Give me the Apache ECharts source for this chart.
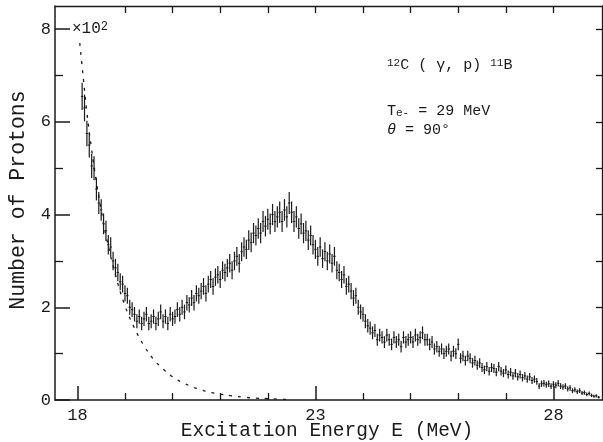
<!DOCTYPE html>
<html>
<head>
<meta charset="utf-8">
<script src="https://cdn.jsdelivr.net/npm/echarts@6/dist/echarts.min.js"></script>
<style>
  html, body { margin: 0; padding: 0; background: #ffffff; }
  #chart { width: 603px; height: 442px; }
</style>
</head>
<body>
<div id="chart"></div>
<script>
// Proton yield of 12C(γ,p)11B versus excitation energy (counts in units of 10^2)
const binStart = 18.10;   // MeV, centre of the first bin
const binWidth = 0.05;    // MeV

const protonCounts = [
  6.55, 6.30, 5.75, 5.50, 5.05, 5.00, 4.55, 4.25, 4.10, 3.80,
  3.65, 3.35, 3.30, 3.00, 2.85, 2.75, 2.55, 2.50, 2.30, 2.25,
  2.00, 1.95, 1.85, 1.70, 1.80, 1.65, 1.75, 1.85, 1.65, 1.70,
  1.80, 1.65, 1.75, 1.90, 1.70, 1.80, 1.65, 1.85, 1.75, 1.80,
  1.95, 1.85, 2.00, 1.90, 2.10, 2.05, 2.20, 2.10, 2.30, 2.25,
  2.35, 2.45, 2.30, 2.50, 2.60, 2.45, 2.65, 2.70, 2.60, 2.80,
  2.75, 2.85, 2.95, 2.80, 3.00, 3.10, 2.95, 3.20, 3.30, 3.25,
  3.45, 3.40, 3.60, 3.55, 3.70, 3.60, 3.85, 3.75, 3.90, 3.80,
  4.00, 3.85, 3.95, 4.05, 3.85, 4.10, 3.95, 4.25, 4.05, 3.85,
  3.95, 3.70, 3.80, 3.60, 3.65, 3.45, 3.55, 3.35, 3.25, 3.10,
  3.30, 3.05, 3.20, 3.00, 3.15, 2.95, 3.10, 2.80, 2.75, 2.60,
  2.70, 2.45, 2.50, 2.35, 2.20, 2.25, 2.00, 1.90, 1.85, 1.70,
  1.60, 1.55, 1.45, 1.50, 1.30, 1.40, 1.35, 1.25, 1.40, 1.30,
  1.20, 1.35, 1.25, 1.30, 1.15, 1.35, 1.25, 1.30, 1.35, 1.25,
  1.40, 1.30, 1.35, 1.45, 1.30, 1.30, 1.20, 1.25, 1.10, 1.15,
  1.05, 1.10, 1.00, 1.05, 1.10, 0.95, 1.05, 1.00, 1.20, 0.90,
  0.95, 0.85, 0.95, 0.90, 0.80, 0.85, 0.75, 0.80, 0.70, 0.65,
  0.72, 0.62, 0.70, 0.68, 0.60, 0.72, 0.62, 0.58, 0.65, 0.55,
  0.60, 0.52, 0.58, 0.50, 0.55, 0.48, 0.52, 0.45, 0.50, 0.42,
  0.45, 0.40, 0.30, 0.35, 0.36, 0.33, 0.35, 0.30, 0.34, 0.32,
  0.36, 0.30, 0.28, 0.30, 0.24, 0.26, 0.20, 0.22, 0.18, 0.20,
  0.15, 0.16, 0.12, 0.14, 0.10, 0.08, 0.09, 0.06
];

// Low-energy background curve (dashed)
const fitEnergy = [18.05, 18.10, 18.20, 18.30, 18.40, 18.50, 18.60, 18.80, 19.00, 19.20,
                   19.40, 19.60, 19.80, 20.00, 20.20, 20.40, 20.60, 20.80, 21.00, 21.25,
                   21.50, 21.75, 22.00, 22.20, 22.45];
const fitCounts = [7.70, 7.20, 6.20, 5.40, 4.70, 4.10, 3.55, 2.70, 2.03, 1.55,
                   1.17, 0.88, 0.67, 0.50, 0.38, 0.29, 0.22, 0.165, 0.125, 0.09,
                   0.06, 0.04, 0.03, 0.02, 0.01];

// Axis ticks
const xMajorTicks = [18, 23, 28];
const xMinorTicks = [19, 20, 21, 22, 24, 25, 26, 27];
const xTopTicks = [19, 20, 21, 22, 23, 24, 25, 26, 27, 28];
const yMajorTicks = [0, 2, 4, 6, 8];
const yMinorTicks = [1, 3, 5, 7];
const yRightTicks = [1, 2, 3, 4, 5, 6, 7, 8];

const ink = '#1a1a1a';
const font = '"Liberation Mono", "DejaVu Sans Mono", monospace';
const xMin = 17.53, xMax = 29.02;
const yMin = 0, yMax = 8.5;

const points = protonCounts.map((v, i) => [
  +(binStart + i * binWidth).toFixed(2),
  v,
  1.15 * Math.sqrt(v) / 10   // statistical error bar, sqrt(N) with N = 100·v
]);
const fitLine = fitEnergy.map((e, i) => [e, fitCounts[i]]);

function xAxisBase(extra) {
  return Object.assign({
    type: 'value', min: xMin, max: xMax,
    splitLine: { show: false },
    axisLine: { show: false },
    axisLabel: { show: false },
    axisTick: { show: false }
  }, extra);
}
function yAxisBase(extra) {
  return Object.assign({
    type: 'value', min: yMin, max: yMax,
    splitLine: { show: false },
    axisLine: { show: false },
    axisLabel: { show: false },
    axisTick: { show: false }
  }, extra);
}

const chart = echarts.init(document.getElementById('chart'), null, { renderer: 'canvas' });

chart.setOption({
  animation: false,
  backgroundColor: '#ffffff',
  grid: { left: 55, top: 6, right: 1, bottom: 42, containLabel: false },
  xAxis: [
    xAxisBase({
      position: 'bottom',
      axisLine: { show: true, onZero: false, lineStyle: { color: ink, width: 1.5 } },
      axisTick: { show: true, inside: true, length: 14, customValues: xMajorTicks,
                  lineStyle: { color: ink, width: 1.5 } },
      axisLabel: { show: true, customValues: xMajorTicks, margin: 7,
                   fontFamily: font, fontSize: 17, color: ink }
    }),
    xAxisBase({
      position: 'bottom',
      axisTick: { show: true, inside: true, length: 7, customValues: xMinorTicks,
                  lineStyle: { color: ink, width: 1.3 } }
    }),
    xAxisBase({
      position: 'top',
      axisLine: { show: true, onZero: false, lineStyle: { color: ink, width: 1.3 } },
      axisTick: { show: true, inside: true, length: 7, customValues: xTopTicks,
                  lineStyle: { color: ink, width: 1.3 } }
    })
  ],
  yAxis: [
    yAxisBase({
      position: 'left',
      axisLine: { show: true, onZero: false, lineStyle: { color: ink, width: 1.5 } },
      axisTick: { show: true, inside: true, length: 15, customValues: yMajorTicks,
                  lineStyle: { color: ink, width: 1.5 } },
      axisLabel: { show: true, customValues: yMajorTicks, margin: 4,
                   fontFamily: font, fontSize: 17, color: ink }
    }),
    yAxisBase({
      position: 'left',
      axisTick: { show: true, inside: true, length: 8, customValues: yMinorTicks,
                  lineStyle: { color: ink, width: 1.3 } }
    }),
    yAxisBase({
      position: 'right',
      axisLine: { show: true, onZero: false, lineStyle: { color: ink, width: 1.3 } },
      axisTick: { show: true, inside: true, length: 6, customValues: yRightTicks,
                  lineStyle: { color: ink, width: 1.3 } }
    })
  ],
  series: [
    {
      type: 'line',
      name: 'background',
      xAxisIndex: 0, yAxisIndex: 0,
      data: fitLine,
      smooth: 0.4,
      showSymbol: false,
      lineStyle: { color: ink, width: 1.3, type: [3, 6] },
      z: 2
    },
    {
      type: 'custom',
      name: 'protons',
      xAxisIndex: 0, yAxisIndex: 0,
      data: points,
      encode: { x: 0, y: 1 },
      clip: true,
      z: 3,
      renderItem: function (params, api) {
        const e = api.value(0), v = api.value(1), s = api.value(2);
        const hi = api.coord([e, v + s]);
        const lo = api.coord([e, v - s]);
        const l = api.coord([e - binWidth / 2, v]);
        const r = api.coord([e + binWidth / 2, v]);
        return {
          type: 'group',
          children: [
            { type: 'line', shape: { x1: hi[0], y1: hi[1], x2: lo[0], y2: lo[1] },
              style: { stroke: ink, lineWidth: 1.2 } },
            { type: 'line', shape: { x1: l[0], y1: l[1], x2: r[0], y2: r[1] },
              style: { stroke: ink, lineWidth: 1 } }
          ]
        };
      }
    }
  ],
  graphic: [
    {
      type: 'text', left: 72, top: 21,
      style: {
        text: '×10{sup|2}', fontFamily: font, fontSize: 16, fill: ink,
        rich: { sup: { fontFamily: font, fontSize: 12, verticalAlign: 'top', lineHeight: 11 } }
      }
    },
    {
      type: 'text', left: 387, top: 58,
      style: {
        text: '{sup|12}C ( γ, p) {sup|11}B', fontFamily: font, fontSize: 15, fill: ink,
        rich: { sup: { fontFamily: font, fontSize: 11, verticalAlign: 'top', lineHeight: 10 } }
      }
    },
    {
      type: 'text', left: 387, top: 104,
      style: {
        text: 'T{sub|e-} = 29 MeV', fontFamily: font, fontSize: 15, fill: ink,
        rich: { sub: { fontFamily: font, fontSize: 11, verticalAlign: 'bottom', lineHeight: 11 } }
      }
    },
    {
      type: 'text', left: 387, top: 123,
      style: {
        text: '{it|θ} = 90°', fontFamily: font, fontSize: 15, fill: ink,
        rich: { it: { fontFamily: font, fontSize: 15, fontStyle: 'italic' } }
      }
    },
    {
      type: 'text', x: 327, y: 431,
      style: {
        text: 'Excitation Energy E (MeV)', fontFamily: font, fontSize: 19.5, fill: ink,
        align: 'center', verticalAlign: 'middle'
      }
    },
    {
      type: 'text', x: 18, y: 200, rotation: Math.PI / 2,
      style: {
        text: 'Number of Protons', fontFamily: font, fontSize: 21.5, fill: ink,
        align: 'center', verticalAlign: 'middle'
      }
    }
  ]
});
</script>
</body>
</html>
